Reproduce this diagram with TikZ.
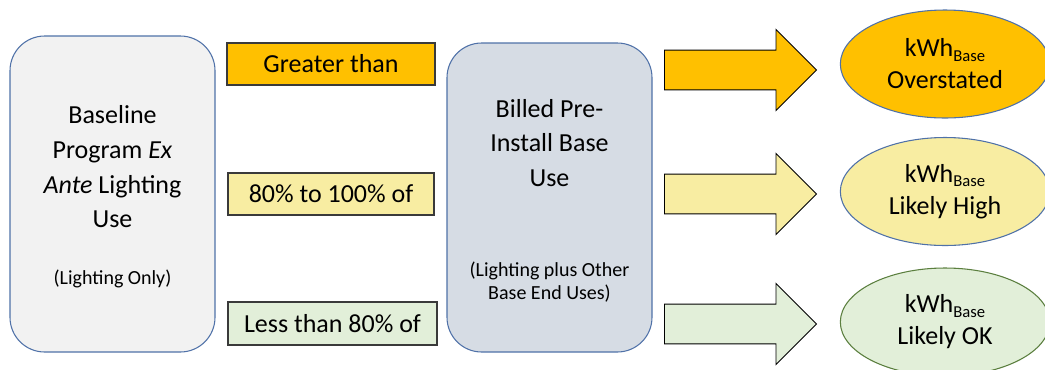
\documentclass[tikz,border=0pt]{standalone}
\usepackage{fontspec}
\setmainfont{Carlito}
\usepackage{tikz}
\usetikzlibrary{shapes.geometric}
\usetikzlibrary{shapes.arrows}
\definecolor{gold}{HTML}{FFC000}
\definecolor{paleyel}{HTML}{F8EDA2}
\definecolor{palegrn}{HTML}{E2EFD9}
\definecolor{boxgray}{HTML}{F2F2F2}
\definecolor{boxblue}{HTML}{D6DCE4}
\definecolor{edgeblue}{HTML}{4F71A8}
\definecolor{edgegrn}{HTML}{5B7F3F}
\definecolor{edgegray}{HTML}{3A3A3A}
\newcommand{\bigtxt}{\fontsize{19.5}{26}\selectfont}
\newcommand{\smalltxt}{\fontsize{15}{17.3}\selectfont}
\newcommand{\kwhbase}{kWh\raisebox{-0.18em}{\fontsize{12.5}{12.5}\selectfont Base}}

\begin{document}
\begin{tikzpicture}[x=0.75pt,y=-0.75pt]
\tikzstyle{sourcebox}=[draw=edgeblue,line width=0.8pt,rounded corners=26pt,minimum width=153.75pt,inner sep=0pt]
\tikzstyle{cmpbox}=[draw=edgegray,line width=0.8pt,minimum height=31.5pt,inner sep=0pt,font=\bigtxt]
\tikzstyle{outarrow}=[single arrow,draw=black,line width=0.7pt,minimum height=114pt,inner xsep=0pt,inner ysep=14.6pt,single arrow head extend=15.4pt]
\tikzstyle{verdict}=[ellipse,line width=0.8pt,minimum width=157pt,minimum height=81pt,inner sep=0pt,align=center,font=\bigtxt]
\useasboundingbox[clip] (0,0) rectangle (1045,369);
% left and middle boxes
\node[sourcebox,fill=boxgray,minimum height=237pt] (exante) at (112.5,194) {};
\node[align=center,font=\bigtxt] (exantetxt) at (112.5,167) {Baseline\\Program \emph{Ex}\\\emph{Ante} Lighting\\Use};
\node[align=center,font=\smalltxt] (exantenote) at (112.5,279) {(Lighting Only)};
\node[sourcebox,fill=boxblue,minimum height=231.75pt] (billed) at (549.5,197.5) {};
\node[align=center,font=\bigtxt] (billedtxt) at (549.5,143) {Billed Pre-\\Install Base\\Use};
\node[align=center,font=\smalltxt] (billednote) at (549.5,282) {(Lighting plus Other\\Base End Uses)};
% comparisons
\node[cmpbox,fill=gold,minimum width=156pt] (greater) at (331,64) {Greater than};
\node[cmpbox,fill=paleyel,minimum width=154.5pt] (within) at (331,194) {80\% to 100\% of};
\node[cmpbox,fill=palegrn,minimum width=156.75pt,minimum height=32.25pt] (less) at (332.5,323.5) {Less than 80\% of};
% block arrows
\node[outarrow,fill=gold] (arrhigh) at (730.5,70) {};
\node[outarrow,fill=paleyel] (arrmid) at (730.5,194) {};
\node[outarrow,fill=palegrn] (arrlow) at (730.5,324) {};
% results
\node[verdict,draw=edgeblue,fill=gold] (over) at (945,64) {\kwhbase\\[-2pt]Overstated};
\node[verdict,draw=edgeblue,fill=paleyel] (likelyhigh) at (945,191.5) {\kwhbase\\[-2pt]Likely High};
\node[verdict,draw=edgegrn,fill=palegrn] (likelyok) at (945,322) {\kwhbase\\[-2pt]Likely OK};
\end{tikzpicture}
\end{document}
